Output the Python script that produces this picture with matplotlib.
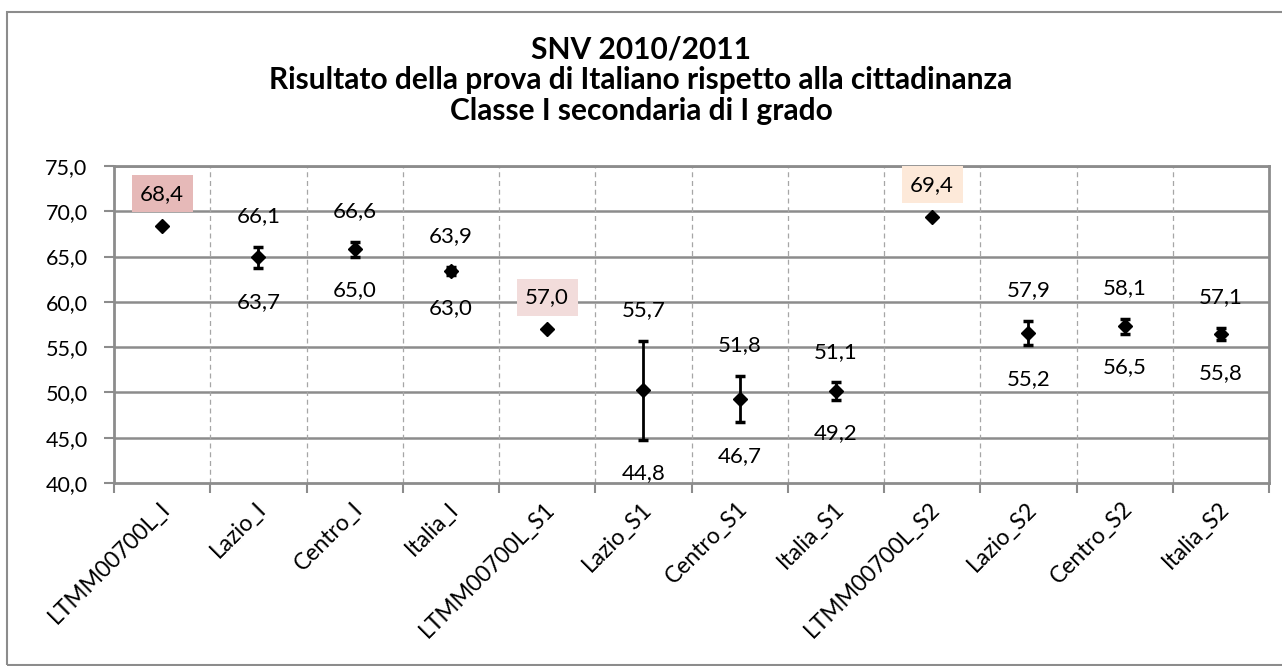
import matplotlib
matplotlib.use("Agg")
from matplotlib import pyplot as plt
from matplotlib.patches import Rectangle
import matplotlib.transforms as mtransforms

plt.rcParams['font.family'] = ['Lato', 'DejaVu Sans']

categories = ["LTMM00700L_I", "Lazio_I", "Centro_I", "Italia_I",
              "LTMM00700L_S1", "Lazio_S1", "Centro_S1", "Italia_S1",
              "LTMM00700L_S2", "Lazio_S2", "Centro_S2", "Italia_S2"]
# None = single school value, no interval
upper = [None, 66.1, 66.6, 63.9, None, 55.7, 51.8, 51.1, None, 57.9, 58.1, 57.1]
lower = [None, 63.7, 65.0, 63.0, None, 44.8, 46.7, 49.2, None, 55.2, 56.5, 55.8]
mean = [68.4, 64.9, 65.8, 63.45, 57.0, 50.25, 49.25, 50.15, 69.4, 56.55, 57.3, 56.45]
school_colors = {0: "#E6B9B8", 4: "#F2DCDB", 8: "#FDE9D9"}

title = "SNV 2010/2011\nRisultato della prova di Italiano rispetto alla cittadinanza\nClasse I secondaria di I grado"


def fmt(v):
    return f"{v:.1f}".replace(".", ",")


W, H = 1282, 666
fig = plt.figure(figsize=(W / 100, H / 100), dpi=100)
ax = fig.add_axes([114 / W, 1 - 483 / H, (1269 - 114) / W, (483 - 166) / H])

# outer chart border
fig.patches.append(Rectangle((7 / W, 1 - 665 / H), 1.2, 653 / H, transform=fig.transFigure,
                             fill=False, edgecolor="#8c8c8c", linewidth=1.5))

x = list(range(len(categories)))
for i in x:
    if upper[i] is None:
        ax.plot(i, mean[i], marker="D", color="black", markersize=7, zorder=5)
        ax.annotate(fmt(mean[i]), (i, mean[i]), xytext=(0, 23), textcoords="offset points",
                    ha="center", va="center", fontsize=16,
                    bbox=dict(boxstyle="square,pad=0.38", facecolor=school_colors[i], edgecolor="none"))
    else:
        ax.errorbar(i, mean[i], yerr=[[mean[i] - lower[i]], [upper[i] - mean[i]]],
                    fmt="D", color="black", markersize=7, elinewidth=2, capsize=3.6,
                    capthick=2.5, zorder=5)
        ax.annotate(fmt(upper[i]), (i, upper[i]), xytext=(0, 22), textcoords="offset points",
                    ha="center", va="center", fontsize=16)
        ax.annotate(fmt(lower[i]), (i, lower[i]), xytext=(0, -24), textcoords="offset points",
                    ha="center", va="center", fontsize=16)

ax.set_xlim(-0.5, len(categories) - 0.5)
ax.set_ylim(40, 75)
ax.set_yticks([40, 45, 50, 55, 60, 65, 70, 75])
ax.set_yticklabels([fmt(v) for v in [40, 45, 50, 55, 60, 65, 70, 75]], fontsize=15.5)

bounds = [b - 0.5 for b in range(len(categories) + 1)]
ax.set_xticks(bounds)
ax.set_xticklabels([])
ax.set_xticks(x, minor=True)
ax.set_xticklabels(categories, minor=True, rotation=45, ha="right", va="top",
                   rotation_mode="anchor", fontsize=16.5)
ax.tick_params(axis="x", which="minor", length=0, pad=11)
ax.tick_params(axis="x", which="major", length=7, width=1.5, color="#8c8c8c")
ax.tick_params(axis="y", length=7, width=1.5, color="#8c8c8c", pad=12)
shift = mtransforms.ScaledTranslation(-2 / 72, 0, fig.dpi_scale_trans)
for lab in ax.get_xticklabels(minor=True):
    lab.set_transform(lab.get_transform() + shift)

for y in [45, 50, 55, 60, 65, 70, 75]:
    ax.axhline(y, color="#8c8c8c", linewidth=1.8, zorder=1)
for b in bounds[1:-1]:
    ax.axvline(b, color="#a6a6a6", linewidth=0.9, linestyle=(0, (4, 3)), zorder=1)

for s in ax.spines.values():
    s.set_color("#8c8c8c")
    s.set_linewidth(2)

fig.text(0.5, 1 - 80 / H, title, ha="center", va="center", fontsize=21.5,
         fontweight="bold", linespacing=1.12)

fig.savefig("out.png", dpi=100)
